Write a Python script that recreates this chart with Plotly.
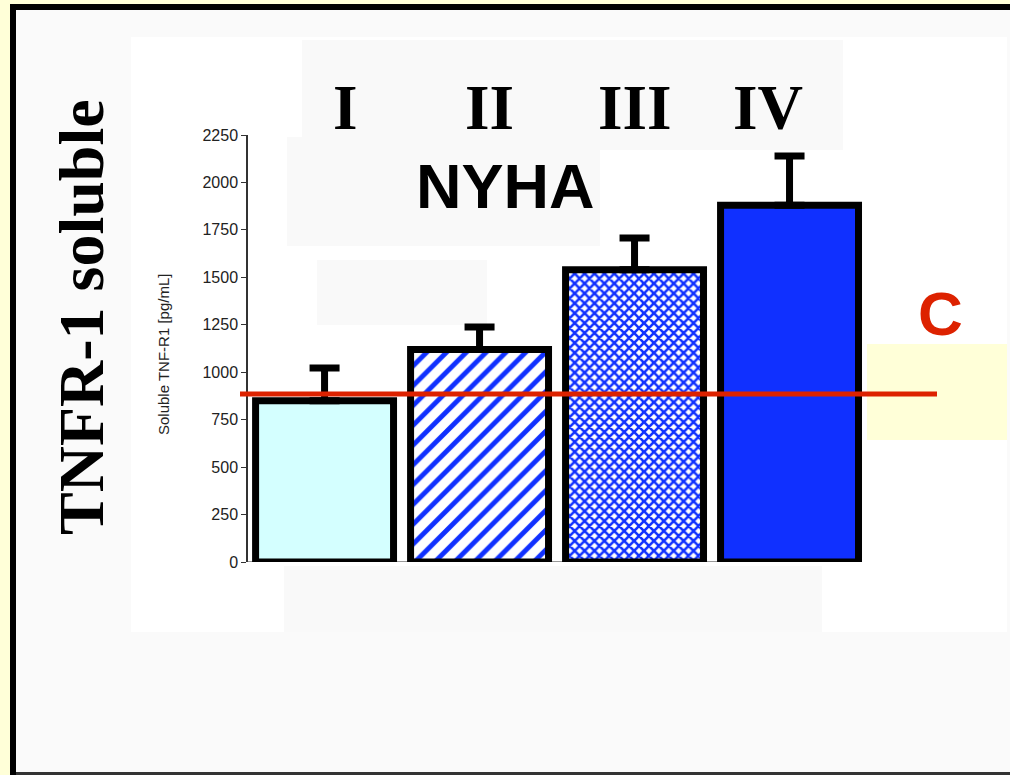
import plotly.graph_objects as go

# ---- data ----
categories = ["I", "II", "III", "IV"]
means = [850, 1120, 1540, 1880]
errors_up = [172, 118, 167, 260]
control_value = [885]
y_ticks = [0, 250, 500, 750, 1000, 1250, 1500, 1750, 2000, 2250]

# ---- geometry helpers (pixel -> paper) ----
W, H = 1010, 775
L, R, T, B = 248, 936, 135, 562
def px(x):
    return (x - L) / (R - L)
def py(y):
    return (B - y) / (B - T)

BLUE = "#1030FF"
styles = [
    dict(color="#D4FFFF"),
    dict(color="white", pattern=dict(shape="/", fgcolor=BLUE, bgcolor="white",
                                     size=14, solidity=0.35, fillmode="replace")),
    dict(color="white", pattern=dict(shape="x", fgcolor=BLUE, bgcolor="white",
                                     size=7, solidity=0.6, fillmode="replace")),
    dict(color=BLUE),
]

fig = go.Figure()
for i, c in enumerate(categories):
    fig.add_trace(go.Bar(
        x=[c], y=[means[i]], width=0.89,
        marker=dict(line=dict(color="black", width=7), **styles[i]),
        error_y=dict(type="data", symmetric=False, array=[errors_up[i]],
                     arrayminus=[0], color="black", thickness=7, width=15),
        cliponaxis=False, showlegend=False,
    ))

shapes = []
def rect(x0, y0, x1, y1, color, layer="below"):
    shapes.append(dict(type="rect", xref="paper", yref="paper",
                       x0=px(x0), x1=px(x1), y0=py(y0), y1=py(y1),
                       fillcolor=color, line=dict(width=0), layer=layer))

rect(16, 10, 1015, 773, "#FAFAFA")
rect(10, 4, 1015, 10, "black")
rect(10, 4, 16, 780, "black")
rect(16, 772, 1015, 775, "#333333")
rect(131, 37, 1007, 632, "white")
rect(302, 40, 843, 150, "#F9F9F9")
rect(287, 137, 600, 246, "#F9F9F9")
rect(317, 260, 487, 325, "#F9F9F9")
rect(284, 566, 822, 632, "#F9F9F9")
rect(867, 344, 1007, 440, "#FFFFD8")

# x-axis baseline
shapes.append(dict(type="line", xref="paper", yref="y", x0=0, x1=px(862),
                   y0=0, y1=0, line=dict(color="#777777", width=1.5), layer="below"))
# control reference line
shapes.append(dict(type="line", xref="paper", yref="y", x0=px(240), x1=px(937),
                   y0=control_value[0], y1=control_value[0],
                   line=dict(color="#DD2200", width=5), layer="above"))

annotations = []
shifts = [21, 10, 0, -22]
for c, s in zip(categories, shifts):
    annotations.append(dict(x=c, xref="x", xshift=s, y=py(108), yref="paper",
                            text="<b>" + c + "</b>", showarrow=False,
                            xanchor="center", yanchor="middle",
                            font=dict(family="Liberation Serif", size=63, color="black")))
annotations.append(dict(x=px(505), y=py(186), xref="paper", yref="paper", text="<b>NYHA</b>",
                        showarrow=False, xanchor="center", yanchor="middle",
                        font=dict(family="Liberation Sans", size=63, color="black")))
annotations.append(dict(x=px(940), y=py(313), xref="paper", yref="paper", text="<b>C</b>",
                        showarrow=False, xanchor="center", yanchor="middle",
                        font=dict(family="Liberation Sans", size=62, color="#DD2200")))
annotations.append(dict(x=px(81), y=py(317), xref="paper", yref="paper", text="<b>TNFR-1 soluble</b>",
                        showarrow=False, xanchor="center", yanchor="middle", textangle=-90,
                        font=dict(family="Liberation Serif", size=64, color="black")))
annotations.append(dict(x=px(163), y=py(355), xref="paper", yref="paper", text="Soluble TNF-R1 [pg/mL]",
                        showarrow=False, xanchor="center", yanchor="middle", textangle=-90,
                        font=dict(family="Liberation Sans", size=15, color="#222222")))

fig.update_layout(
    width=W, height=H, autosize=False,
    margin=dict(l=L, r=W - R, t=T, b=H - B, pad=0),
    paper_bgcolor="#FFFFD8", plot_bgcolor="rgba(0,0,0,0)",
    barmode="overlay",
    shapes=shapes, annotations=annotations,
    xaxis=dict(range=[-0.494, 3.945], showticklabels=False, showline=False,
               showgrid=False, zeroline=False, ticks=""),
    yaxis=dict(range=[0, 2250], tickvals=y_ticks, ticks="outside", ticklen=5,
               tickcolor="#333333", showline=True, linecolor="#333333", linewidth=1.5,
               showgrid=False, zeroline=False,
               tickfont=dict(family="Liberation Sans", size=16, color="#222222")),
)

post = r"""
document.body.style.margin = '0';
document.body.style.background = '#FFFFD8';
document.querySelectorAll('path').forEach(function(p){
  var f = p.style.fill;
  if (f && f.indexOf('url(') >= 0) {
    p.style.fill = f.replace(/url\(["']?[^#"']*#([^"')]+)["']?\)/, 'url(#$1)');
  }
});
"""
fig.write_html("out.html", post_script=post, config={"displayModeBar": False})
